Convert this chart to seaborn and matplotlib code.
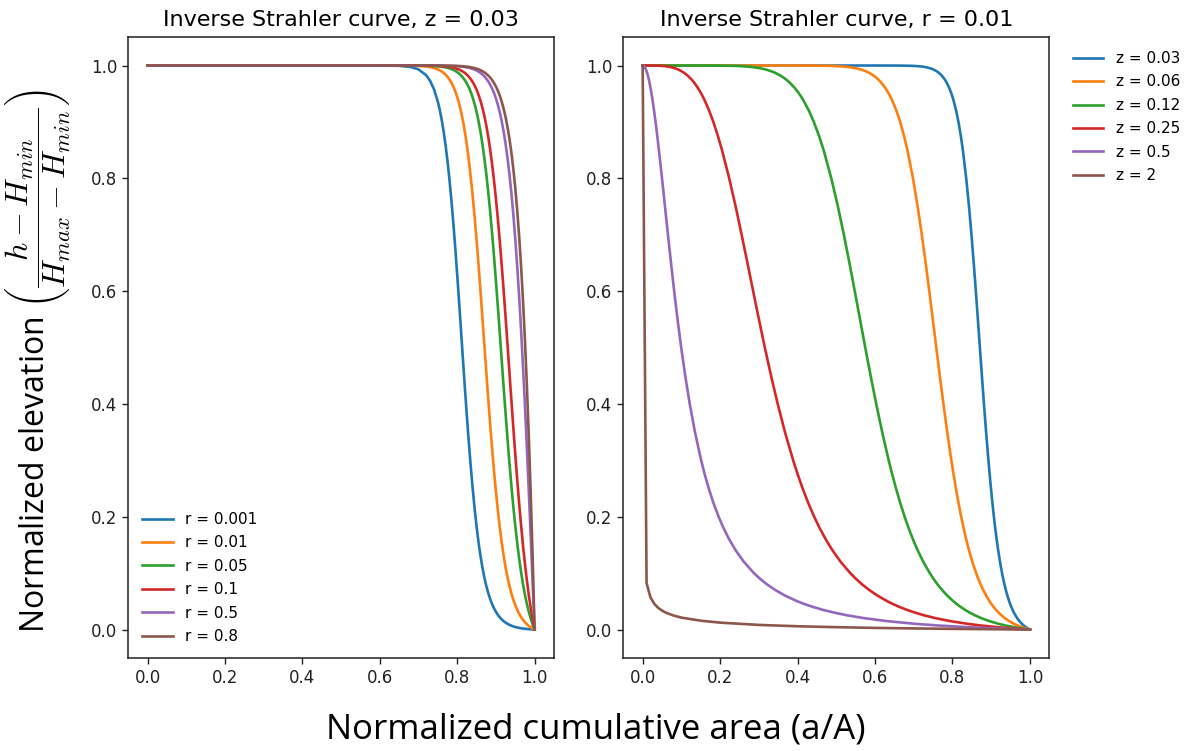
import matplotlib
matplotlib.use("Agg")
import matplotlib.pyplot as plt
import seaborn as sns

# ---------------- data ----------------
# Left panel (z = 0.03): shared normalized cumulative area values, one elevation list per r
LEFT_X = [0.0, 0.60, 0.65, 0.68, 0.70, 0.72, 0.73, 0.74, 0.75, 0.755, 0.76, 0.765, 0.77,
          0.775, 0.78, 0.785, 0.79, 0.795, 0.80, 0.805, 0.81, 0.815, 0.82, 0.825, 0.83,
          0.835, 0.84, 0.845, 0.85, 0.855, 0.86, 0.865, 0.87, 0.875, 0.88, 0.885, 0.89,
          0.895, 0.90, 0.905, 0.91, 0.915, 0.92, 0.925, 0.93, 0.935, 0.94, 0.945, 0.95,
          0.955, 0.96, 0.965, 0.97, 0.975, 0.98, 0.985, 0.99, 0.995, 0.9975, 1.0]
LEFT_Y_R0001 = [1.0, 0.99996, 0.99942, 0.99740, 0.99318, 0.98275, 0.97295, 0.95807, 0.93593,
                0.92130, 0.90380, 0.88304, 0.85869, 0.83043, 0.79807, 0.76157, 0.72106,
                0.67687, 0.62958, 0.57997, 0.52903, 0.47780, 0.42733, 0.37867, 0.33253,
                0.28967, 0.25049, 0.21459, 0.18340, 0.15562, 0.13157, 0.11087, 0.09322,
                0.07809, 0.06533, 0.05455, 0.04547, 0.03787, 0.03149, 0.02616, 0.02171,
                0.01799, 0.01489, 0.01229, 0.01013, 0.00833, 0.00682, 0.00556, 0.00451,
                0.00363, 0.00289, 0.00227, 0.00176, 0.00132, 0.00096, 0.00065, 0.00040,
                0.00018, 0.00009, 0.0]
LEFT_Y_R001 = [1.0, 1.0, 0.99994, 0.99974, 0.99931, 0.99825, 0.99723, 0.99565, 0.99320,
               0.99153, 0.98947, 0.98693, 0.98381, 0.97999, 0.97532, 0.96964, 0.96275,
               0.95443, 0.94443, 0.93247, 0.91825, 0.90148, 0.88182, 0.85901, 0.83255,
               0.80268, 0.76916, 0.73205, 0.69164, 0.64826, 0.60239, 0.55496, 0.50690,
               0.45858, 0.41142, 0.36588, 0.32267, 0.28244, 0.24537, 0.21175, 0.18160,
               0.15481, 0.13127, 0.11068, 0.09284, 0.07746, 0.06425, 0.05295, 0.04332,
               0.03512, 0.02817, 0.02229, 0.01730, 0.01308, 0.00952, 0.00651, 0.00396,
               0.00182, 0.00087, 0.0]
LEFT_Y_R005 = [1.0, 1.0, 0.99999, 0.99995, 0.99986, 0.99965, 0.99944, 0.99913, 0.99863,
               0.99829, 0.99787, 0.99736, 0.99672, 0.99593, 0.99496, 0.99378, 0.99232,
               0.99054, 0.98836, 0.98571, 0.98250, 0.97859, 0.97386, 0.96817, 0.96133,
               0.95315, 0.94339, 0.93181, 0.91813, 0.90207, 0.88339, 0.86178, 0.83713,
               0.80899, 0.77753, 0.74259, 0.70430, 0.66304, 0.61915, 0.57322, 0.52595,
               0.47804, 0.43036, 0.38358, 0.33849, 0.29565, 0.25557, 0.21848, 0.18464,
               0.15400, 0.12660, 0.10231, 0.08091, 0.06215, 0.04585, 0.03171, 0.01951,
               0.00901, 0.00433, 0.0]
LEFT_Y_R01 = [1.0, 1.0, 0.99999, 0.99997, 0.99993, 0.99982, 0.99972, 0.99956, 0.99932,
              0.99915, 0.99894, 0.99868, 0.99836, 0.99796, 0.99747, 0.99688, 0.99614,
              0.99525, 0.99415, 0.99280, 0.99117, 0.98918, 0.98676, 0.98383, 0.98028,
              0.97600, 0.97086, 0.96470, 0.95731, 0.94853, 0.93808, 0.92577, 0.91135,
              0.89440, 0.87484, 0.85229, 0.82652, 0.79742, 0.76477, 0.72874, 0.68933,
              0.64686, 0.60175, 0.55449, 0.50579, 0.45640, 0.40707, 0.35861, 0.31169,
              0.26685, 0.22475, 0.18561, 0.14966, 0.11702, 0.08766, 0.06147, 0.03828,
              0.01786, 0.00863, 0.0]
LEFT_Y_R05 = [1.0, 1.0, 1.0, 0.99999, 0.99999, 0.99996, 0.99994, 0.99991, 0.99986,
              0.99983, 0.99979, 0.99974, 0.99967, 0.99959, 0.99949, 0.99937, 0.99923,
              0.99905, 0.99882, 0.99855, 0.99822, 0.99782, 0.99732, 0.99672, 0.99599,
              0.99511, 0.99403, 0.99273, 0.99116, 0.98927, 0.98697, 0.98422, 0.98092,
              0.97693, 0.97218, 0.96650, 0.95970, 0.95165, 0.94209, 0.93072, 0.91734,
              0.90155, 0.88310, 0.86155, 0.83654, 0.80761, 0.77441, 0.73655, 0.69363,
              0.64540, 0.59177, 0.53266, 0.46808, 0.39857, 0.32452, 0.24672, 0.16597,
              0.08337, 0.04171, 0.0]
LEFT_Y_R08 = [1.0, 1.0, 1.0, 1.0, 0.99999, 0.99998, 0.99997, 0.99995, 0.99991, 0.99989,
              0.99987, 0.99983, 0.99979, 0.99974, 0.99968, 0.99961, 0.99952, 0.99940,
              0.99926, 0.99909, 0.99889, 0.99863, 0.99833, 0.99795, 0.99749, 0.99694,
              0.99626, 0.99545, 0.99446, 0.99327, 0.99182, 0.99007, 0.98798, 0.98546,
              0.98243, 0.97880, 0.97444, 0.96923, 0.96293, 0.95555, 0.94669, 0.93612,
              0.92360, 0.90876, 0.89114, 0.87041, 0.84597, 0.81726, 0.78365, 0.74439,
              0.69873, 0.64585, 0.58475, 0.51464, 0.43467, 0.34384, 0.24153, 0.12700,
              0.06508, 0.0]
LEFT_LABELS = ["r = 0.001", "r = 0.01", "r = 0.05", "r = 0.1", "r = 0.5", "r = 0.8"]

# Right panel (r = 0.01): shared normalized elevation values, one area list per z
RIGHT_Y = [1.0, 0.99999, 0.9999, 0.9995, 0.999, 0.998, 0.997, 0.995, 0.993, 0.99, 0.987,
           0.983, 0.98, 0.975, 0.97, 0.96, 0.95, 0.94, 0.92, 0.9, 0.875, 0.85, 0.8, 0.75,
           0.7, 0.65, 0.6, 0.55, 0.5, 0.45, 0.4, 0.35, 0.3, 0.275, 0.25, 0.225, 0.2, 0.18,
           0.16, 0.14, 0.12, 0.1, 0.09, 0.08, 0.07, 0.06, 0.05, 0.045, 0.04, 0.035, 0.03,
           0.025, 0.02, 0.015, 0.01, 0.007, 0.004, 0.002, 0.0]
RIGHT_X_Z003 = [0.0, 0.61660, 0.66070, 0.69339, 0.70797, 0.72287, 0.73173, 0.74308, 0.75066,
                0.75880, 0.76487, 0.77114, 0.77498, 0.78031, 0.78471, 0.79175, 0.79732,
                0.80194, 0.80941, 0.81538, 0.82154, 0.82676, 0.83542, 0.84264, 0.84899,
                0.85480, 0.86026, 0.86552, 0.87070, 0.87590, 0.88123, 0.88680, 0.89277,
                0.89597, 0.89935, 0.90297, 0.90688, 0.91028, 0.91398, 0.91807, 0.92265,
                0.92791, 0.93087, 0.93412, 0.93773, 0.94179, 0.94645, 0.94907, 0.95193,
                0.95508, 0.95861, 0.96259, 0.96719, 0.97262, 0.97927, 0.98412, 0.98992,
                0.99454, 1.0]
RIGHT_X_Z006 = [0.0, 0.38020, 0.43652, 0.48079, 0.50122, 0.52254, 0.53543, 0.55217, 0.56349,
                0.57578, 0.58503, 0.59466, 0.60059, 0.60888, 0.61577, 0.62687, 0.63572,
                0.64311, 0.65514, 0.66484, 0.67493, 0.68353, 0.69793, 0.71004, 0.72078,
                0.73068, 0.74005, 0.74913, 0.75812, 0.76720, 0.77657, 0.78641, 0.79704,
                0.80276, 0.80883, 0.81535, 0.82243, 0.82861, 0.83536, 0.84285, 0.85128,
                0.86102, 0.86652, 0.87258, 0.87934, 0.88697, 0.89577, 0.90074, 0.90617,
                0.91218, 0.91893, 0.92658, 0.93546, 0.94599, 0.95897, 0.96849, 0.97994,
                0.98910, 1.0]
RIGHT_X_Z012 = [0.0, 0.14455, 0.19055, 0.23116, 0.25122, 0.27305, 0.28669, 0.30489, 0.31752,
                0.33152, 0.34226, 0.35362, 0.36071, 0.37074, 0.37917, 0.39297, 0.40414,
                0.41359, 0.42921, 0.44201, 0.45553, 0.46722, 0.48711, 0.50416, 0.51952,
                0.53389, 0.54767, 0.56120, 0.57475, 0.58860, 0.60306, 0.61844, 0.63527,
                0.64442, 0.65421, 0.66480, 0.67639, 0.68659, 0.69783, 0.71040, 0.72468,
                0.74136, 0.75086, 0.76140, 0.77324, 0.78672, 0.80240, 0.81133, 0.82115,
                0.83207, 0.84443, 0.85855, 0.87509, 0.89490, 0.91962, 0.93797, 0.96028,
                0.97832, 1.0]
RIGHT_X_Z025 = [0.0, 0.017783, 0.031623, 0.047293, 0.056248, 0.066908, 0.074064, 0.084194,
                0.091628, 0.100249, 0.107125, 0.114671, 0.119516, 0.126533, 0.132603,
                0.142856, 0.151444, 0.158922, 0.171684, 0.182524, 0.194344, 0.204870,
                0.223467, 0.240081, 0.255589, 0.270524, 0.285270, 0.300142, 0.315442,
                0.331488, 0.348663, 0.367463, 0.388589, 0.400339, 0.413115, 0.427172,
                0.442851, 0.456876, 0.472591, 0.490479, 0.511260, 0.536049, 0.550481,
                0.566705, 0.585198, 0.606655, 0.632124, 0.646848, 0.663280, 0.681830,
                0.703066, 0.727800, 0.757274, 0.793466, 0.839836, 0.875132, 0.919059,
                0.955364, 1.0]
RIGHT_X_Z05 = [0.0, 0.000316, 0.0010000, 0.0022366, 0.0031639, 0.0044766, 0.0054854,
               0.0070886, 0.0083957, 0.010050, 0.011476, 0.013150, 0.014284, 0.016011,
               0.017584, 0.020408, 0.022936, 0.025257, 0.029475, 0.033314, 0.037769,
               0.041971, 0.049938, 0.057639, 0.065326, 0.073184, 0.081379, 0.090086,
               0.099504, 0.109884, 0.121565, 0.135029, 0.151002, 0.160271, 0.170664,
               0.182477, 0.196117, 0.208736, 0.223342, 0.240570, 0.261386, 0.287348,
               0.303029, 0.321154, 0.342457, 0.368030, 0.399581, 0.418414, 0.439941,
               0.464893, 0.494301, 0.529694, 0.573464, 0.629588, 0.705326, 0.765857,
               0.844670, 0.912720, 1.0]
RIGHT_X_Z2 = [0.0, 0.0101, 0.0202, 0.0303, 0.0404, 0.0505, 0.0606, 0.0808, 0.1010, 0.1515,
              0.2020, 0.3030, 0.4040, 0.5051, 0.6061, 0.7071, 0.8081, 0.9091, 1.0]
RIGHT_Y_Z2 = [1.0, 0.0821, 0.0569, 0.0453, 0.0382, 0.0334, 0.0297, 0.0246, 0.0210, 0.0155,
              0.0121, 0.0081, 0.0057, 0.0041, 0.0028, 0.0019, 0.0011, 0.0005, 0.0]
RIGHT_LABELS = ["z = 0.03", "z = 0.06", "z = 0.12", "z = 0.25", "z = 0.5", "z = 2"]

LEFT_TITLE = "Inverse Strahler curve, z = 0.03"
RIGHT_TITLE = "Inverse Strahler curve, r = 0.01"
TICKS = [0.0, 0.2, 0.4, 0.6, 0.8, 1.0]
TICK_LABELS = ["0.0", "0.2", "0.4", "0.6", "0.8", "1.0"]
XLABEL = "Normalized cumulative area (a/A)"
YLABEL = (r"Normalized elevation "
          r"$\left(\dfrac{h-H_{min}}{H_{max}-H_{min}}\right)$")

# ---------------- figure ----------------
plt.rcParams["mathtext.fontset"] = "cm"
colors = sns.color_palette("tab10", 6)

fig = plt.figure(figsize=(11.92, 7.51), dpi=100)
ax1 = fig.add_axes([0.1076, 0.1242, 0.3571, 0.8261])
ax2 = fig.add_axes([0.5229, 0.1242, 0.3574, 0.8261])

left_series = [LEFT_Y_R0001, LEFT_Y_R001, LEFT_Y_R005, LEFT_Y_R01, LEFT_Y_R05, LEFT_Y_R08]
for ys, lab, c in zip(left_series, LEFT_LABELS, colors):
    sns.lineplot(x=LEFT_X, y=ys, ax=ax1, color=c, label=lab, sort=False,
                 estimator=None, linewidth=1.9)

right_series = [(RIGHT_X_Z003, RIGHT_Y), (RIGHT_X_Z006, RIGHT_Y), (RIGHT_X_Z012, RIGHT_Y),
                (RIGHT_X_Z025, RIGHT_Y), (RIGHT_X_Z05, RIGHT_Y), (RIGHT_X_Z2, RIGHT_Y_Z2)]
for (xs, ys), lab, c in zip(right_series, RIGHT_LABELS, colors):
    sns.lineplot(x=xs, y=ys, ax=ax2, color=c, label=lab, sort=False,
                 estimator=None, linewidth=1.9)

for ax, title in [(ax1, LEFT_TITLE), (ax2, RIGHT_TITLE)]:
    ax.set_xlim(-0.05, 1.05)
    ax.set_ylim(-0.05, 1.05)
    ax.set_xticks(TICKS)
    ax.set_xticklabels(TICK_LABELS)
    ax.set_yticks(TICKS)
    ax.set_yticklabels(TICK_LABELS)
    ax.tick_params(labelsize=12, length=4.5, width=1.0, colors="#222222")
    ax.set_title(title, fontsize=16, pad=8)
    ax.set_xlabel("")
    ax.set_ylabel("")
    for sp in ax.spines.values():
        sp.set_linewidth(1.1)
        sp.set_color("#222222")

ax1.legend(loc="lower left", frameon=False, fontsize=11, labelspacing=0.55)
ax2.legend(loc="upper left", bbox_to_anchor=(1.023, 1.0), frameon=False, fontsize=11,
           labelspacing=0.55)

fig.text(0.5, 0.0173, XLABEL, ha="center", va="baseline", fontsize=25,
         family=["Open Sans", "DejaVu Sans"])
fig.text(0.032, 0.519, YLABEL, ha="center", va="center", rotation=90, fontsize=23,
         family=["Open Sans", "DejaVu Sans"])

fig.savefig("out.png", dpi=100)
